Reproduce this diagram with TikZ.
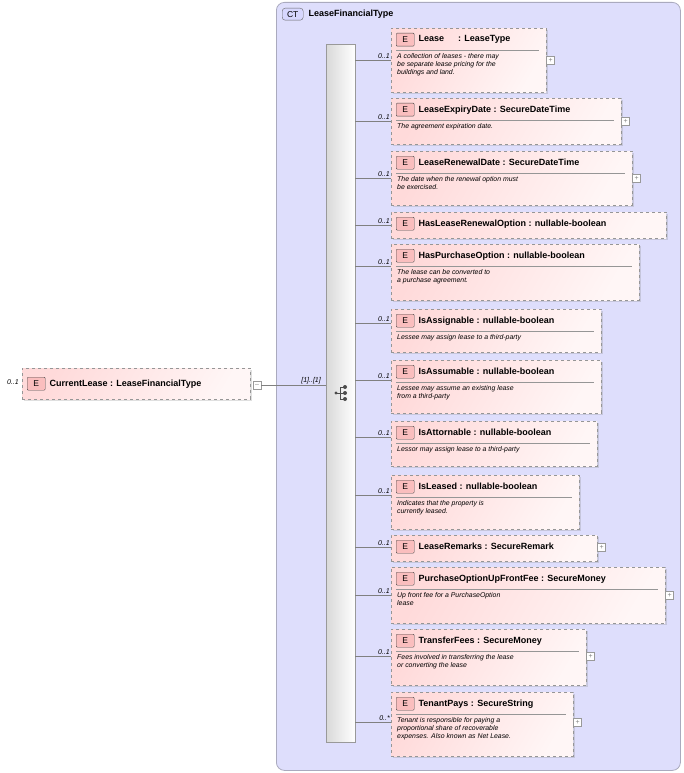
\documentclass[tikz,border=0pt]{standalone}
\usepackage{fontspec}
\setmainfont{Liberation Sans}
\usetikzlibrary{positioning,shadows}
\definecolor{ctfill}{RGB}{222,222,252}
\definecolor{ctline}{RGB}{170,170,190}
\definecolor{efill}{RGB}{255,218,218}
\definecolor{ebadge}{RGB}{250,190,190}
\definecolor{eline}{RGB}{150,150,150}
\tikzset{
  ebox/.style={draw=eline, dashed, left color=efill, right color=efill!25, shading angle=60,
    drop shadow={shadow xshift=1.5pt, shadow yshift=-1.5pt, opacity=.25}, anchor=north west, inner sep=0pt},
  badge/.style={draw=black!70, fill=ebadge, rounded corners=1pt, minimum width=18pt, minimum height=13pt,
    inner sep=0pt, anchor=north west, font=\fontsize{8.5}{9}\selectfont},
  etitle/.style={anchor=west, font=\fontsize{9}{10}\selectfont\bfseries, inner sep=0pt},
  edesc/.style={anchor=north west, align=left, font=\fontsize{6.9}{8.3}\selectfont\itshape, inner sep=0pt},
  mult/.style={anchor=south east, font=\fontsize{7}{8}\selectfont\itshape, inner sep=1pt},
  plus/.style={draw=black!40, fill=white, minimum size=8pt, inner sep=0pt, font=\fontsize{7}{7}\selectfont, text=black!50},
  conn/.style={draw=black!50, line width=0.6pt}
}
% \elem{name}{top}{right}{bottom}{line y}{title}{description}{multiplicity}
\newcommand{\elem}[8]{%
  \node[ebox, minimum width=#3pt-391pt, minimum height=#4pt-#2pt] (#1) at (391,#2) {};
  \node[badge] (#1b) at (396,#2+5) {E};
  \node[etitle, right=4pt of #1b] (#1t) {#6};
  \coordinate (#1c) at (391,#5);
  \draw[conn] (seq.east |- #1c) -- (#1c);
  \node[mult] at (#1c) {#8};
  \if\relax\detokenize{#7}\relax\else
    \draw[eline] (396,#2+22) -- (#3-7,#2+22);
    \node[edesc] (#1d) at (397,#2+25) {#7};
  \fi}
\newcommand{\pluson}[1]{\node[plus, right=0pt of #1.east |- #1c] {+};}
\begin{document}
\begin{tikzpicture}[x=1pt,y=-1pt]
\useasboundingbox (0,0) rectangle (684,773);
% complex type
\node[draw=ctline, fill=ctfill, rounded corners=8pt, minimum width=404pt, minimum height=768pt,
  anchor=north west, inner sep=0pt, line width=0.8pt] (ct) at (276,2) {};
\node[draw=black!60, fill=ctfill!70!blue!40, rounded corners=3pt, minimum width=21pt, minimum height=12pt,
  anchor=north west, inner sep=0pt, font=\fontsize{8.5}{9}\selectfont] (ctb) at (282,8) {CT};
\node[etitle, right=5pt of ctb] {LeaseFinancialType};
% sequence bar
\node[draw=black!40, left color=black!15, right color=white, minimum width=29pt, minimum height=698pt,
  anchor=north west, inner sep=0pt] (seq) at (326,44) {};
\begin{scope}[shift={(341,393)}]
  \fill[black!70] (-5,0) circle (1.6);
  \draw[black!70, line width=0.8pt] (-5,0) -- (-1,0) (-1,-6) -- (-1,6) (-1,-6) -- (4,-6) (-1,0) -- (4,0) (-1,6) -- (4,6);
  \fill[black!70] (4,-6) circle (2) (4,0) circle (2) (4,6) circle (2);
\end{scope}
% root element
\node[ebox, minimum width=228pt, minimum height=31pt] (root) at (22,368) {};
\node[badge] (rootb) at (27,377) {E};
\node[etitle, right=4pt of rootb] {CurrentLease : LeaseFinancialType};
\node[mult] at (20,386) {0..1};
\node[plus] (rootm) at (257,385) {--};
\draw[conn] (rootm.east) -- (seq.west |- rootm);
\node[mult] at (322,385) {[1]..[1]};
% children
\elem{lease}{28}{546}{92}{60}{Lease\hspace{14pt}: LeaseType}{A collection of leases - there may\\be separate lease pricing for the\\buildings and land.}{0..1}
\pluson{lease}
\elem{expiry}{98}{621}{144}{121}{LeaseExpiryDate : SecureDateTime}{The agreement expiration date.}{0..1}
\pluson{expiry}
\elem{renewal}{151}{632}{205}{178}{LeaseRenewalDate : SecureDateTime}{The date when the renewal option must\\be exercised.}{0..1}
\pluson{renewal}
\elem{hasrenew}{212}{666}{238}{225}{HasLeaseRenewalOption : nullable-boolean}{}{0..1}
\elem{haspurch}{244}{639}{300}{266}{HasPurchaseOption : nullable-boolean}{The lease can be converted to\\a purchase agreement.}{0..1}
\elem{assign}{309}{601}{352}{323}{IsAssignable : nullable-boolean}{Lessee may assign lease to a third-party}{0..1}
\elem{assume}{360}{601}{413}{380}{IsAssumable : nullable-boolean}{Lessee may assume an existing lease\\from a third-party}{0..1}
\elem{attorn}{421}{597}{466}{437}{IsAttornable : nullable-boolean}{Lessor may assign lease to a third-party}{0..1}
\elem{leased}{475}{579}{529}{495}{IsLeased : nullable-boolean}{Indicates that the property is\\currently leased.}{0..1}
\elem{remarks}{535}{597}{561}{547}{LeaseRemarks : SecureRemark}{}{0..1}
\pluson{remarks}
\elem{upfront}{567}{665}{623}{595}{PurchaseOptionUpFrontFee : SecureMoney}{Up front fee for a PurchaseOption\\lease}{0..1}
\pluson{upfront}
\elem{transfer}{629}{586}{685}{656}{TransferFees : SecureMoney}{Fees involved in transferring the lease\\or converting the lease}{0..1}
\pluson{transfer}
\elem{tenant}{692}{573}{756}{722}{TenantPays : SecureString}{Tenant is responsible for paying a\\proportional share of recoverable\\expenses. Also known as Net Lease.}{0..*}
\pluson{tenant}
\end{tikzpicture}
\end{document}
